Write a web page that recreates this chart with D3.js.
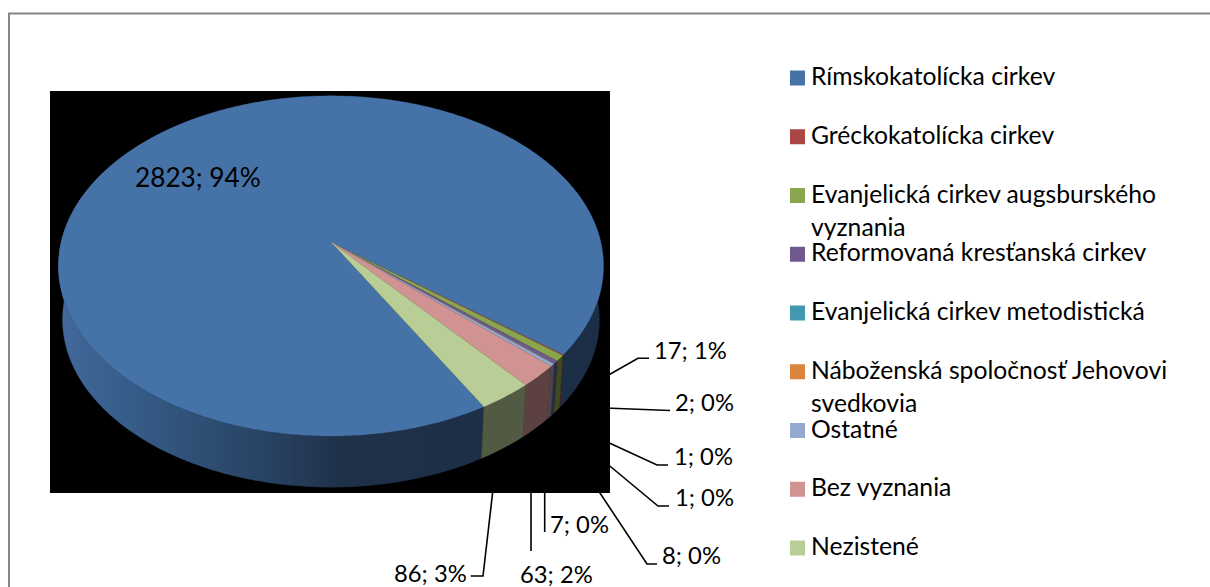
<!DOCTYPE html>
<html><head><meta charset="utf-8">
<script src="https://cdnjs.cloudflare.com/ajax/libs/d3/7.8.5/d3.min.js"></script>
<style>html,body{margin:0;padding:0;background:#fff}svg{display:block}text{font-family:Lato,"Open Sans",sans-serif;fill:#000}</style>
</head><body><svg id="c" width="1210" height="587"></svg>
<script>
const categories = ["Rímskokatolícka cirkev","Gréckokatolícka cirkev","Evanjelická cirkev augsburského vyznania","Reformovaná kresťanská cirkev","Evanjelická cirkev metodistická","Náboženská spoločnosť Jehovovi svedkovia","Ostatné","Bez vyznania","Nezistené"];
const legendLines = [["Rímskokatolícka cirkev"],["Gréckokatolícka cirkev"],["Evanjelická cirkev augsburského","vyznania"],["Reformovaná kresťanská cirkev"],["Evanjelická cirkev metodistická"],["Náboženská spoločnosť Jehovovi","svedkovia"],["Ostatné"],["Bez vyznania"],["Nezistené"]];
const values = [2823,2,17,8,1,1,7,63,86];
const colors = ["#4572A7","#AA4643","#89A54E","#71588F","#4198AF","#DB843D","#93A9CF","#D19392","#B9CD96"];

const FS = 24.7, FS_OUT = 23.8, FS_IN = 26.2;
const svg = d3.select("#c");
const sum = d3.sum(values);
const labelOf = i => `${values[i]}; ${Math.round(values[i]/sum*100)}%`;

// frame
svg.append("path").attr("d","M9,587V13.5H1210").attr("fill","none").attr("stroke","#868686").attr("stroke-width",2);

// leader lines (drawn under the black plot area) and outside labels
const callouts = [
 {i:2,pts:[[605,377],[638,358.3],[649,358.3]],x:654,y:359},
 {i:1,pts:[[605,408],[670,410.5]],x:675,y:411},
 {i:4,pts:[[605,441],[657,465],[668,465]],x:674,y:465},
 {i:5,pts:[[605,462],[658,506],[669,506]],x:675,y:506},
 {i:3,pts:[[596,487],[647,564],[657,564]],x:662,y:564},
 {i:6,pts:[[544.7,485],[544.7,532]],x:550,y:533},
 {i:7,pts:[[531,485],[531,551]],x:520,y:583},
 {i:8,pts:[[493.5,485],[483,576],[470.7,576]],x:394,y:582}
];
const lineGen = d3.line();
svg.append("g").selectAll("path").data(callouts).join("path")
  .attr("d",d=>lineGen(d.pts)).attr("fill","none").attr("stroke","#000").attr("stroke-width",1.6);
svg.append("g").selectAll("text").data(callouts).join("text")
  .attr("x",d=>d.x).attr("y",d=>d.y).attr("font-size",FS_OUT).text(d=>labelOf(d.i));

// plot area
svg.append("rect").attr("x",50).attr("y",91).attr("width",560).attr("height",402).attr("fill","#000");

// perspective disc projection
const P = 0.135, A = 270, B = 167, CX = 331, CY = 243, APEX = [332,243];
function project(theta, scale, cy){
  const u = Math.sin(theta), v = -Math.cos(theta), w = 1 - P*v;
  return [CX + scale*A*u/w, cy + scale*B*v/w];
}
const TOP = t => project(t,1,CY), BOT = t => project(t,0.985,297);
const pie = d3.pie().sort(null).startAngle(150*Math.PI/180).endAngle(510*Math.PI/180);
const arcs = pie(values);
const samples = d => { const n = Math.max(2,Math.ceil((d.endAngle-d.startAngle)*90)); return d3.range(n+1).map(k=>d.startAngle+(d.endAngle-d.startAngle)*k/n); };

// wall shading
const defs = svg.append("defs");
const grad = defs.append("linearGradient").attr("id","wall").attr("gradientUnits","userSpaceOnUse").attr("x1",58).attr("x2",603).attr("y1",0).attr("y2",0);
[[0,"#42699b"],[0.1,"#38608d"],[0.25,"#2f5076"],[0.4,"#27405f"],[0.52,"#1f3149"],[1,"#1b2e45"]].forEach(s=>grad.append("stop").attr("offset",s[0]).attr("stop-color",s[1]));
const wallColor = i => { if(i===0) return "url(#wall)"; const c=d3.rgb(colors[i]); return d3.rgb(c.r*0.44,c.g*0.44,c.b*0.44).formatHex(); };

svg.append("g").selectAll("path").data(arcs).join("path")
  .attr("d",d=>{const s=samples(d);return lineGen(s.map(TOP).concat(s.slice().reverse().map(BOT)))+"Z";})
  .attr("fill",d=>wallColor(d.index)).attr("stroke",d=>wallColor(d.index)).attr("stroke-width",0.4);

// top face
svg.append("g").selectAll("path").data(arcs).join("path")
  .attr("d",d=>lineGen([APEX].concat(samples(d).map(TOP)))+"Z")
  .attr("fill",d=>colors[d.index]).attr("stroke",d=>colors[d.index]).attr("stroke-width",0.2);

// inside label
svg.append("text").attr("x",135).attr("y",187).attr("font-size",FS_IN).text(labelOf(0));

// legend
const rowY = d3.scalePoint().domain(d3.range(categories.length)).range([78,548]);
const leg = svg.append("g").selectAll("g").data(categories).join("g");
leg.append("rect").attr("x",790).attr("y",(d,i)=>rowY(i)-7.5).attr("width",15).attr("height",15).attr("fill",(d,i)=>colors[i]);
leg.each(function(d,i){
  const t=d3.select(this).append("text").attr("font-size",FS);
  legendLines[i].forEach((l,k)=>t.append("tspan").attr("x",811).attr("y",rowY(i)+7+k*33).text(l));
});
</script></body></html>
